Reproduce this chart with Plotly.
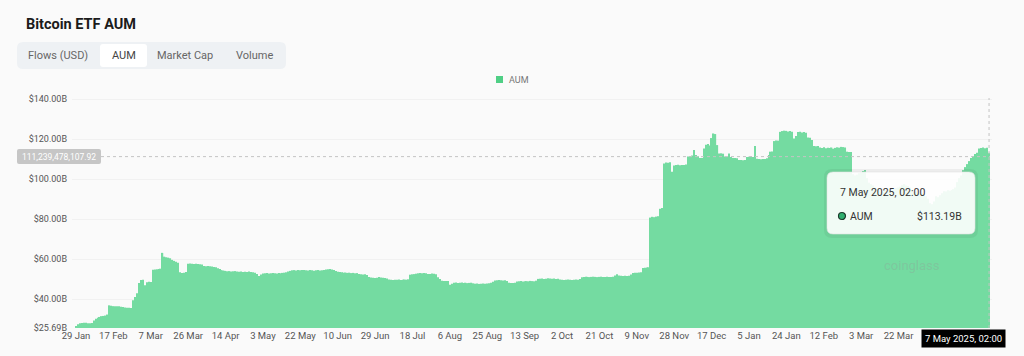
import pandas as pd
import plotly.graph_objects as go

# ---------------- data ----------------
start_date = "2024-01-29"
# daily AUM values in billions USD (29 Jan 2024 .. 7 May 2025)
aum_billions = [
    26.7, 27.6, 28.0, 28.2, 28.3, 28.3, 28.1, 28.0, 28.2, 29.4, 30.3, 30.8, 31.2, 31.6, 31.7, 31.9, 32.4, 37.0, 36.8,
    36.6, 36.6, 36.5, 36.5, 36.3, 36.2, 35.9, 35.8, 35.8, 35.7, 39.5, 41.2, 43.0, 48.2, 49.6, 49.8, 47.0, 48.5, 48.8,
    48.6, 54.8, 54.9, 55.0, 55.2, 55.3, 63.2, 61.3, 61.0, 60.8, 60.5, 59.7, 59.2, 58.7, 58.3, 53.5, 53.2, 53.3, 53.6,
    57.8, 57.9, 57.8, 57.7, 57.8, 57.6, 57.5, 57.4, 56.6, 56.5, 56.7, 56.5, 56.4, 56.2, 56.0, 55.5, 55.1, 54.6, 54.4,
    54.2, 54.0, 54.1, 53.9, 54.0, 54.1, 53.9, 53.8, 53.9, 53.7, 53.8, 53.7, 53.9, 53.6, 53.5, 53.3, 52.6, 51.7, 52.4,
    52.9, 53.0, 53.1, 52.9, 53.0, 53.2, 53.0, 52.9, 53.1, 53.0, 53.2, 53.3, 53.5, 53.9, 54.2, 54.5, 54.6, 54.4, 54.6,
    54.5, 54.7, 54.6, 54.5, 54.4, 54.6, 54.5, 54.3, 54.5, 54.6, 54.4, 54.5, 54.7, 54.9, 55.0, 55.1, 54.9, 54.6, 54.2,
    53.8, 53.7, 53.5, 53.3, 53.4, 53.2, 53.3, 53.1, 53.2, 53.0, 53.1, 52.6, 52.5, 52.4, 52.5, 52.2, 51.2, 50.9, 50.8,
    50.7, 50.8, 51.2, 50.9, 50.8, 50.7, 50.4, 49.9, 49.8, 49.7, 49.8, 49.8, 49.9, 49.7, 49.8, 49.9, 49.8, 50.0, 52.3,
    52.5, 52.6, 52.8, 53.0, 53.1, 53.0, 53.2, 53.0, 52.7, 52.6, 52.9, 52.8, 52.5, 51.0, 50.2, 49.3, 49.2, 49.1, 49.2,
    47.3, 47.8, 48.3, 48.4, 48.2, 48.3, 48.4, 48.2, 48.3, 48.1, 48.2, 48.3, 48.0, 47.8, 47.9, 47.7, 47.8, 47.9, 47.8,
    47.9, 48.0, 48.3, 48.8, 49.4, 49.5, 49.6, 49.5, 49.4, 49.5, 49.2, 48.3, 48.2, 48.1, 48.3, 48.9, 49.0, 49.1, 48.9,
    49.0, 49.1, 49.0, 49.2, 49.1, 49.0, 49.3, 50.2, 50.3, 50.4, 50.2, 50.3, 50.5, 50.4, 50.3, 50.4, 50.2, 50.3, 49.9,
    49.8, 49.7, 49.8, 49.9, 49.8, 49.7, 49.8, 49.9, 49.8, 50.2, 51.0, 51.2, 51.3, 51.2, 51.1, 51.2, 51.3, 51.2, 51.1,
    51.2, 51.3, 51.1, 51.2, 51.3, 51.2, 51.1, 51.3, 51.9, 52.5, 51.9, 51.8, 51.7, 51.8, 51.6, 51.8, 52.4, 53.2, 53.3,
    53.3, 53.4, 53.5, 55.6, 55.8, 55.9, 56.0, 80.8, 81.2, 81.0, 81.3, 81.5, 85.2, 85.6, 107.8, 108.3, 108.2, 108.4, 103.7,
    106.8, 107.0, 107.2, 106.9, 107.1, 107.0, 107.3, 111.3, 111.5, 111.8, 114.5, 112.0, 111.4, 110.5, 110.6, 115.3, 117.2, 117.5, 116.8,
    120.5, 122.8, 122.5, 117.0, 112.8, 112.9, 112.7, 111.3, 111.2, 112.8, 111.0, 110.5, 110.6, 110.4, 109.6, 109.5, 109.4, 109.6, 111.0,
    111.2, 111.3, 111.1, 116.5, 110.2, 110.0, 109.9, 110.1, 110.0, 110.4, 112.0, 113.7, 113.8, 119.0, 119.3, 119.2, 123.6, 124.0, 124.2,
    124.1, 123.8, 124.0, 123.7, 120.3, 121.5, 123.5, 123.6, 123.3, 123.5, 123.2, 120.8, 120.6, 119.5, 116.5, 116.4, 116.6, 115.8, 115.6,
    115.9, 115.4, 115.7, 115.5, 115.8, 115.2, 115.6, 115.9, 115.7, 116.1, 116.0, 115.8, 113.7, 113.5, 113.6, 102.5, 101.8, 102.2, 103.0,
    103.2, 104.0, 104.6, 100.5, 98.2, 97.5, 96.8, 95.8, 95.0, 94.2, 93.5, 93.8, 94.5, 94.0, 94.8, 95.2, 94.6, 95.0, 95.5,
    95.8, 96.2, 97.0, 97.5, 96.8, 96.5, 95.8, 94.2, 93.5, 93.8, 93.2, 92.6, 93.0, 92.0, 91.5, 90.2, 88.0, 87.5, 88.8,
    91.5, 91.0, 92.0, 93.0, 94.0, 93.8, 94.5, 94.2, 94.6, 95.0, 95.8, 98.5, 100.5, 101.8, 104.5, 106.0, 107.5, 109.0, 110.5,
    111.5, 112.5, 113.2, 115.3, 115.6, 115.8, 115.4, 115.7, 113.19,
]
dates = pd.date_range(start_date, periods=len(aum_billions), freq="D")

x_tick_dates = ["2024-01-29", "2024-02-17", "2024-03-07", "2024-03-26", "2024-04-14", "2024-05-03",
                "2024-05-22", "2024-06-10", "2024-06-29", "2024-07-18", "2024-08-06", "2024-08-25",
                "2024-09-13", "2024-10-02", "2024-10-21", "2024-11-09", "2024-11-28", "2024-12-17",
                "2025-01-05", "2025-01-24", "2025-02-12", "2025-03-03", "2025-03-22"]
x_tick_labels = ["29 Jan", "17 Feb", "7 Mar", "26 Mar", "14 Apr", "3 May", "22 May", "10 Jun", "29 Jun",
                 "18 Jul", "6 Aug", "25 Aug", "13 Sep", "2 Oct", "21 Oct", "9 Nov", "28 Nov", "17 Dec",
                 "5 Jan", "24 Jan", "12 Feb", "3 Mar", "22 Mar"]
y_tick_vals = [25.69, 40, 60, 80, 100, 120, 140]
y_tick_labels = ["$25.69B", "$40.00B", "$60.00B", "$80.00B", "$100.00B", "$120.00B", "$140.00B"]

series_name = "AUM"
hover_value_label = "$113.19B"
hover_date_label = "7 May 2025, 02:00"
crosshair_y_value = 111.239478107
crosshair_y_label = "111,239,478,107.92"
tabs = ["Flows (USD)", "AUM", "Market Cap", "Volume"]

# ---------------- layout helpers ----------------
W, H = 1024, 356
L, R, T, B = 72, 992, 95, 328
FONT = "Roboto"
BAR = "#74dba1"
BG = "#fafafa"


def px(x):
    return (x - L) / (R - L)


def py(y):
    return (B - y) / (B - T)


def rrect(x0, y0, x1, y1, r):
    X0, X1 = px(x0), px(x1)
    Y0, Y1 = py(y0), py(y1)
    rx = r / (R - L)
    ry = r / (B - T)
    return (f"M {X0+rx},{Y0} L {X1-rx},{Y0} Q {X1},{Y0} {X1},{Y0-ry} "
            f"L {X1},{Y1+ry} Q {X1},{Y1} {X1-rx},{Y1} L {X0+rx},{Y1} "
            f"Q {X0},{Y1} {X0},{Y1+ry} L {X0},{Y0-ry} Q {X0},{Y0} {X0+rx},{Y0} Z")


fig = go.Figure()
fig.add_trace(go.Bar(x=dates, y=aum_billions, name=series_name,
                     marker=dict(color=BAR, line=dict(width=0)), showlegend=False))

shapes = []
ann = []

# title
ann.append(dict(text="<b>Bitcoin ETF AUM</b>", x=px(24), y=py(24), xanchor="left", yanchor="middle",
                font=dict(size=14.5, color="#1b1b1b", family=FONT)))
# tab group
shapes.append(dict(type="path", path=rrect(17, 42, 286, 69, 6), xref="paper", yref="paper",
                   fillcolor="#eef1f4", line=dict(width=0), layer="below"))
shapes.append(dict(type="path", path=rrect(100, 44, 147, 67, 3), xref="paper", yref="paper",
                   fillcolor="#ffffff", line=dict(width=0), layer="below"))
for label, cx in zip(tabs, [58, 123.5, 185, 254]):
    ann.append(dict(text=label, x=px(cx), y=py(55.5), xanchor="center", yanchor="middle",
                    font=dict(size=11, color="#444" if label == "AUM" else "#666", family=FONT)))
# legend
shapes.append(dict(type="rect", x0=px(496), x1=px(503), y0=py(83), y1=py(76), xref="paper", yref="paper",
                   fillcolor="#4fcf85", line=dict(width=0)))
ann.append(dict(text=series_name, x=px(507), y=py(79.5), xanchor="left", yanchor="middle",
                font=dict(size=9, color="#777", family=FONT)))

# crosshair
shapes.append(dict(type="line", xref="paper", yref="y", x0=px(101), x1=px(990),
                   y0=crosshair_y_value, y1=crosshair_y_value, line=dict(color="#c4c4c4", width=1, dash="dot")))
shapes.append(dict(type="line", xref="x", yref="paper", x0=dates[-1], x1=dates[-1], y0=0, y1=py(98),
                   line=dict(color="#c4c4c4", width=1, dash="dot")))
shapes.append(dict(type="path", path=rrect(17, 149, 101, 164, 2), xref="paper", yref="paper",
                   fillcolor="#c6c6c6", line=dict(width=0)))
ann.append(dict(text=crosshair_y_label, x=px(59), y=py(156.5), xanchor="center", yanchor="middle",
                font=dict(size=8.5, color="#ffffff", family=FONT)))
ann.append(dict(text=hover_date_label, x=px(963), y=py(338.5), xanchor="center", yanchor="middle",
                bgcolor="#000000", borderpad=3, font=dict(size=9.5, color="#ffffff", family=FONT)))

# watermark
ann.append(dict(text="coinglass", x=px(912), y=py(265), xanchor="center", yanchor="middle",
                font=dict(size=13, color="rgba(150,150,150,0.30)", family=FONT)))

# tooltip
shapes.append(dict(type="path", path=rrect(824, 169, 978, 238, 8), xref="paper", yref="paper",
                   fillcolor="rgba(0,0,0,0.05)", line=dict(width=0)))
shapes.append(dict(type="path", path=rrect(827, 172, 975, 234, 6), xref="paper", yref="paper",
                   fillcolor="rgba(255,255,255,0.9)", line=dict(color="#e2e2e2", width=0.6)))
ann.append(dict(text=hover_date_label, x=px(838), y=py(192), xanchor="left", yanchor="middle",
                font=dict(size=10.5, color="#333", family=FONT)))
shapes.append(dict(type="circle", xref="paper", yref="paper", x0=px(838.5), x1=px(845.5),
                   y0=py(219.5), y1=py(212.5), fillcolor="#2fae6e", line=dict(color="#1d3b2c", width=1.2)))
ann.append(dict(text=series_name, x=px(848), y=py(216), xanchor="left", yanchor="middle",
                font=dict(size=10.5, color="#333", family=FONT)))
ann.append(dict(text=hover_value_label, x=px(964), y=py(216), xanchor="right", yanchor="middle",
                font=dict(size=10.5, color="#333", family=FONT)))

for a in ann:
    a.update(xref="paper", yref="paper", showarrow=False)

fig.update_layout(
    width=W, height=H,
    margin=dict(l=L, r=W - R, t=T, b=H - B, pad=0),
    paper_bgcolor=BG, plot_bgcolor=BG,
    bargap=0.35,
    font=dict(family=FONT, size=9, color="#555"),
    shapes=shapes, annotations=ann,
    xaxis=dict(range=[pd.Timestamp(start_date) - pd.Timedelta(days=2.03),
                      dates[-1] + pd.Timedelta(days=1.5)],
               tickmode="array", tickvals=x_tick_dates, ticktext=x_tick_labels,
               showgrid=False, zeroline=False, showline=False, ticks="",
               tickfont=dict(size=9.5, color="#555")),
    yaxis=dict(range=[25.69, 142], tickmode="array", tickvals=y_tick_vals, ticktext=y_tick_labels,
               showgrid=True, gridcolor="#f1f1f1", zeroline=False, showline=False, ticks="",
               ticklabelstandoff=4, tickfont=dict(size=9, color="#555")),
    hovermode=False,
)

fig.write_html("out.html", config={"displayModeBar": False},
               post_script="document.body.style.margin='0px';document.body.style.padding='0px';")
